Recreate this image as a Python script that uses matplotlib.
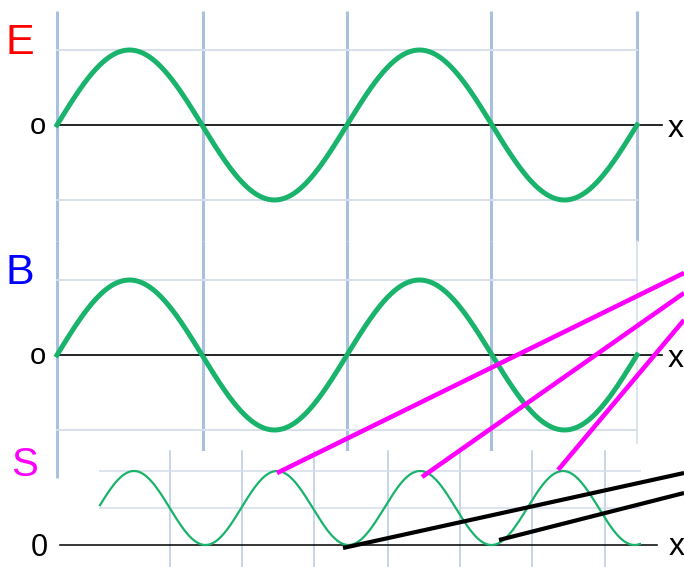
import matplotlib.pyplot as plt
import numpy as np

plt.rcParams["font.family"] = ["Liberation Sans", "DejaVu Sans"]

# wave panels (pixel coordinates of the original drawing)
wave_x0, wave_x1 = 57, 637          # start / end of the E and B waves
n_periods = 2
panel_labels = ["E", "B", "S"]
panel_colors = ["#ff0000", "#0000ff", "#ff00ff"]
zero_levels = [125, 355, 545]        # y of each axis line
amplitudes = [75, 75, 74]
grid_x_eb = [57, 203, 347, 491, 637]
grid_x_s = [170, 242, 314, 388, 460, 532, 605]
grid_y_s = [471, 508, 545]
s_trough0, s_period = 62.5, 143      # first trough and period of the S curve

# magenta and black pointer lines: (x0, y0, x1, y1)
magenta_lines = [(277, 473, 684, 273), (422, 477, 684, 293), (558, 470, 684, 320)]
black_lines = [(343, 548, 684, 473), (499, 540, 684, 493)]

GREEN = "#19b36b"
VGRID = "#a9c1de"
HGRID = "#d6dfeb"


def draw_panel(ax, zero, amp, top, bottom, label, color, origin, right_thick=True):
    for gx in grid_x_eb:
        if gx == grid_x_eb[-1] and not right_thick:
            ax.plot([gx, gx], [top, bottom - 35], color=HGRID, lw=1.2, zorder=1)
            continue
        ax.plot([gx, gx], [top, bottom], color=VGRID, lw=2.2, solid_capstyle="butt", zorder=1)
    ax.plot([wave_x0, wave_x1], [zero - amp] * 2, color=HGRID, lw=1.4, zorder=1)
    ax.plot([wave_x0, wave_x1], [zero + amp] * 2, color=HGRID, lw=1.4, zorder=1)
    ax.plot([wave_x0, 662], [zero, zero], color="black", lw=1.2, zorder=3)
    x = np.linspace(wave_x0, wave_x1, 600)
    phase = (x - wave_x0) / (wave_x1 - wave_x0) * n_periods * 2 * np.pi
    ax.plot(x, zero - amp * np.sin(phase), color=GREEN, lw=3.6, zorder=4)
    ax.text(38, zero + 1, origin, fontsize=21, ha="center", va="center")
    ax.text(676, zero + 4, "x", fontsize=23, ha="center", va="center")
    ax.text(20, zero - 82, label, fontsize=31, color=color, ha="center", va="center")


fig = plt.figure(figsize=(6.84, 5.67), dpi=100)
ax = fig.add_axes([0, 0, 1, 1])
ax.set_xlim(0, 684)
ax.set_ylim(567, 0)
ax.axis("off")

draw_panel(ax, zero_levels[0], amplitudes[0], 11, 241, panel_labels[0], panel_colors[0], "o")
draw_panel(ax, zero_levels[1], amplitudes[1], 241, 478, panel_labels[1], panel_colors[1], "o",
           right_thick=False)

# S panel: white background covering the lower part of B
ax.add_patch(plt.Rectangle((100, 451), 540, 120, facecolor="white", edgecolor="none", zorder=2))
zs = zero_levels[2]
for gx in grid_x_s:
    ax.plot([gx, gx], [451, 567], color="#b7cbe3", lw=1.1, zorder=2.1)
for gy in grid_y_s[:2]:
    ax.plot([100, 640], [gy, gy], color="#d3ddea", lw=1.1, zorder=2.1)
ax.plot([60, 657], [zs, zs], color="black", lw=1.1, zorder=3)
xs = np.linspace(100, 640, 600)
ax.plot(xs, zs - amplitudes[2] * np.sin(np.pi * (xs - s_trough0) / s_period) ** 2,
        color=GREEN, lw=1.6, zorder=4)
ax.text(39, zs + 3, "0", fontsize=22, ha="center", va="center")
ax.text(677, zs + 2, "x", fontsize=23, ha="center", va="center")
ax.text(25, 465, panel_labels[2], fontsize=29, color=panel_colors[2], ha="center", va="center")

for x0, y0, x1, y1 in magenta_lines:
    ax.plot([x0, x1], [y0, y1], color="#ff00ff", lw=3.3, solid_capstyle="butt", zorder=5)
for x0, y0, x1, y1 in black_lines:
    ax.plot([x0, x1], [y0, y1], color="black", lw=3.0, solid_capstyle="butt", zorder=5)

fig.savefig("out.png", dpi=100)
